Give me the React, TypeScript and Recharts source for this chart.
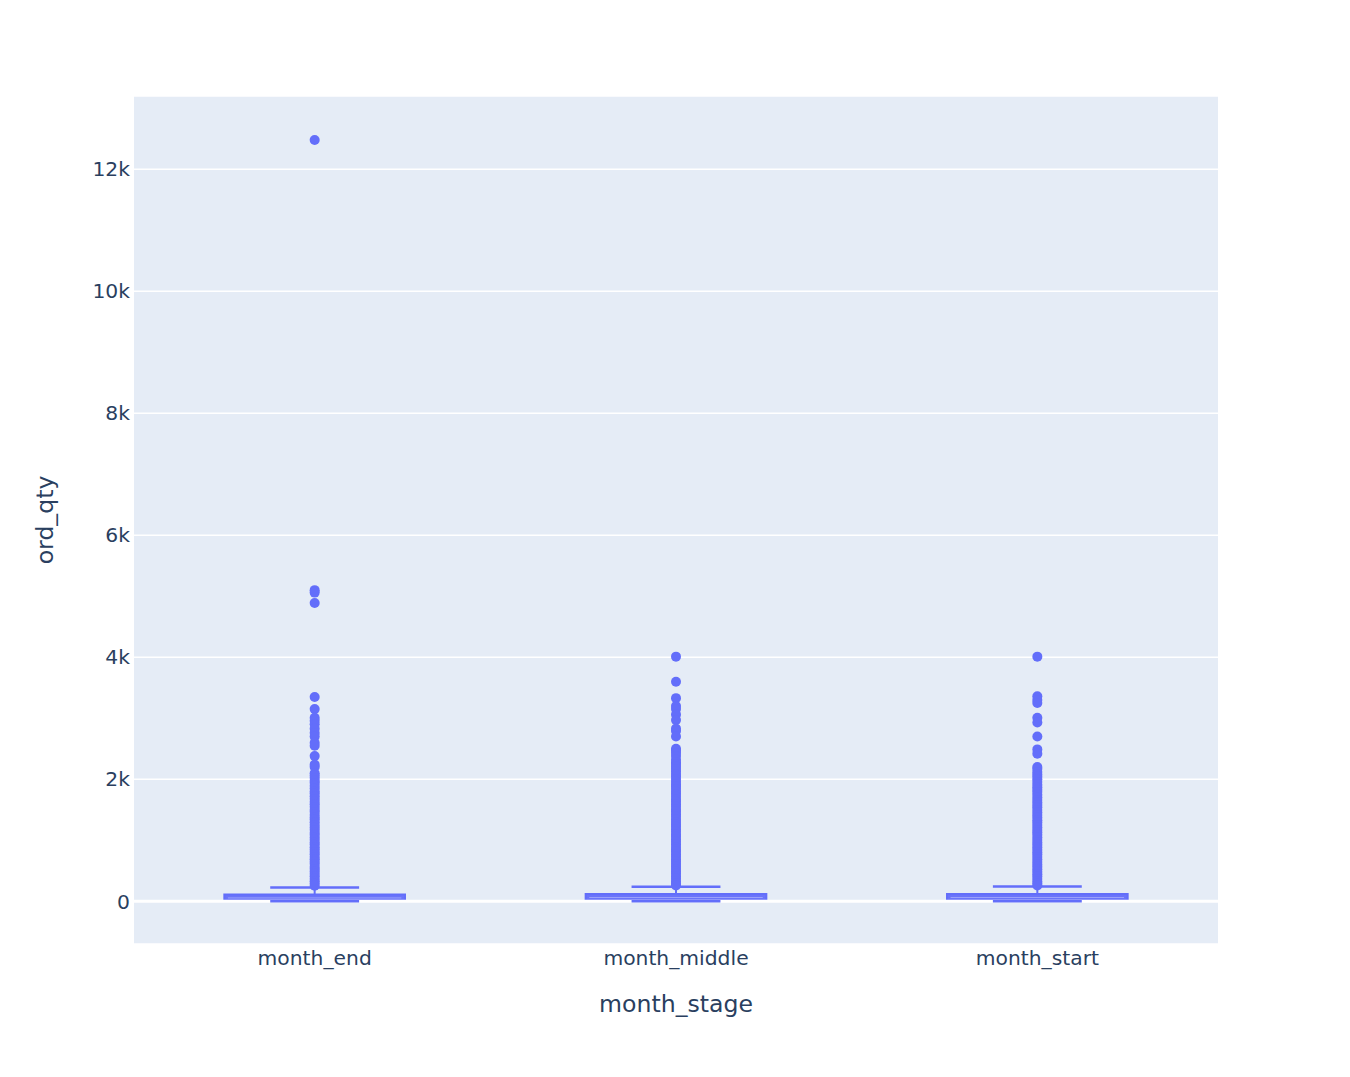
import { ComposedChart, Scatter, XAxis, YAxis, CartesianGrid, ReferenceArea, ReferenceLine, Label } from "recharts";

const categories = ["month_end", "month_middle", "month_start"];

// box stats
const lowerFence = [0, 0, 0];
const q1 = [8, 8, 8];
const median = [55, 62, 62];
const q3 = [112, 118, 118];
const upperFence = [228, 238, 242];

const outliersEnd = [
  12480, 5100, 5060, 4890, 3350, 3150, 3010, 2960, 2900, 2830, 2760, 2700, 2600, 2550, 2380, 2240, 2200,
  2100, 2060, 2020, 1975, 1940, 1895, 1850, 1800, 1765, 1720, 1675, 1630, 1590, 1545, 1500, 1465, 1420,
  1375, 1340, 1295, 1250, 1210, 1170, 1125, 1090, 1045, 1010, 965, 930, 885, 850, 810, 770, 725, 690,
  650, 610, 565, 530, 490, 450, 410, 370, 330, 290, 255,
];
const outliersMiddle = [
  4010, 3600, 3330, 3200, 3150, 3060, 2970, 2830, 2790, 2700, 2500, 2470, 2430, 2380, 2320, 2280, 2250,
  2210, 2170, 2130, 2085, 2050, 2005, 1960, 1920, 1880, 1840, 1795, 1760, 1715, 1670, 1630, 1590, 1550,
  1505, 1470, 1425, 1385, 1340, 1300, 1260, 1220, 1180, 1140, 1095, 1060, 1015, 975, 935, 890, 850, 815,
  770, 730, 690, 650, 610, 570, 530, 490, 450, 410, 370, 330, 290, 260,
];
const outliersStart = [
  4010, 3360, 3300, 3250, 3010, 2930, 2700, 2490, 2420, 2200, 2170, 2120, 2080, 2040, 2000, 1955, 1910,
  1870, 1830, 1790, 1745, 1700, 1660, 1620, 1580, 1540, 1495, 1455, 1415, 1375, 1330, 1290, 1250, 1210,
  1170, 1130, 1090, 1045, 1005, 965, 925, 885, 845, 805, 765, 725, 685, 645, 605, 565, 525, 485, 445,
  405, 365, 325, 290, 258,
];

const yTicks = [0, 2000, 4000, 6000, 8000, 10000, 12000];

const COLOR = "#636efa";
const FONT = '"DejaVu Sans", Verdana, sans-serif';
const TEXT = "#2a3f5f";

const points = [outliersEnd, outliersMiddle, outliersStart].flatMap((vals, i) =>
  vals.map((v) => ({ x: i, y: v }))
);

export default function App() {
  return (
    <div style={{ position: "absolute", left: 0, top: 0, width: 1350, height: 1077, background: "#fff" }}>
      <ComposedChart width={1350} height={1077} data={points} margin={{ top: 96, right: 132, bottom: 0, left: 0 }}>
        <CartesianGrid vertical={false} stroke="#ffffff" strokeWidth={1.5} fill="#E5ECF6" />
        <XAxis
          type="number"
          dataKey="x"
          domain={[-0.5, 2.5]}
          ticks={[0, 1, 2]}
          tickFormatter={(i) => categories[i] ?? ""}
          axisLine={false}
          tickLine={false}
          tickSize={0}
          tickMargin={7}
          height={133}
          tick={{ fontSize: 20.3, fill: TEXT, fontFamily: FONT }}
        >
          <Label
            content={({ viewBox }: any) => (
              <text x={viewBox.x + viewBox.width / 2} y={viewBox.y + 68} textAnchor="middle" fontSize={23.6} fill={TEXT} fontFamily={FONT}>
                month_stage
              </text>
            )}
          />
        </XAxis>
        <YAxis
          type="number"
          dataKey="y"
          domain={[-700, 13200]}
          ticks={yTicks}
          tickFormatter={(v) => (v === 0 ? "0" : `${v / 1000}k`)}
          axisLine={false}
          tickLine={false}
          tickSize={0}
          tickMargin={4}
          width={134}
          tick={{ fontSize: 20.3, fill: TEXT, fontFamily: FONT }}
        >
          <Label
            content={({ viewBox }: any) => {
              const cx = viewBox.x + 53;
              const cy = viewBox.y + viewBox.height / 2;
              return (
                <text x={cx} y={cy} transform={`rotate(-90, ${cx}, ${cy})`} textAnchor="middle" fontSize={23.6} fill={TEXT} fontFamily={FONT}>
                  ord_qty
                </text>
              );
            }}
          />
        </YAxis>
        <ReferenceLine y={0} stroke="#ffffff" strokeWidth={3} />
        {categories.map((c, i) => (
          <ReferenceLine
            key={`wu-${c}`}
            segment={[{ x: i, y: q3[i] }, { x: i, y: upperFence[i] }]}
            stroke={COLOR}
            strokeWidth={2}
          />
        ))}
        {categories.map((c, i) => (
          <ReferenceLine
            key={`cu-${c}`}
            segment={[{ x: i - 0.123, y: upperFence[i] }, { x: i + 0.123, y: upperFence[i] }]}
            stroke={COLOR}
            strokeWidth={2.5}
          />
        ))}
        {categories.map((c, i) => (
          <ReferenceLine
            key={`cl-${c}`}
            segment={[{ x: i - 0.123, y: lowerFence[i] }, { x: i + 0.123, y: lowerFence[i] }]}
            stroke={COLOR}
            strokeWidth={2.5}
          />
        ))}
        {categories.map((c, i) => (
          <ReferenceArea
            key={`box-${c}`}
            x1={i - 0.25}
            x2={i + 0.25}
            y1={q1[i]}
            y2={q3[i]}
            fill={COLOR}
            fillOpacity={0.95}
            stroke={COLOR}
            strokeWidth={2}
          />
        ))}
        {categories.map((c, i) => (
          <ReferenceLine
            key={`med-${c}`}
            segment={[{ x: i - 0.24, y: median[i] }, { x: i + 0.24, y: median[i] }]}
            stroke="#9aa0fb"
            strokeWidth={1}
          />
        ))}
        <Scatter
          dataKey="y"
          fill={COLOR}
          isAnimationActive={false}
          shape={(p: any) => <circle cx={p.cx} cy={p.cy} r={5} fill={COLOR} />}
        />
      </ComposedChart>
    </div>
  );
}
